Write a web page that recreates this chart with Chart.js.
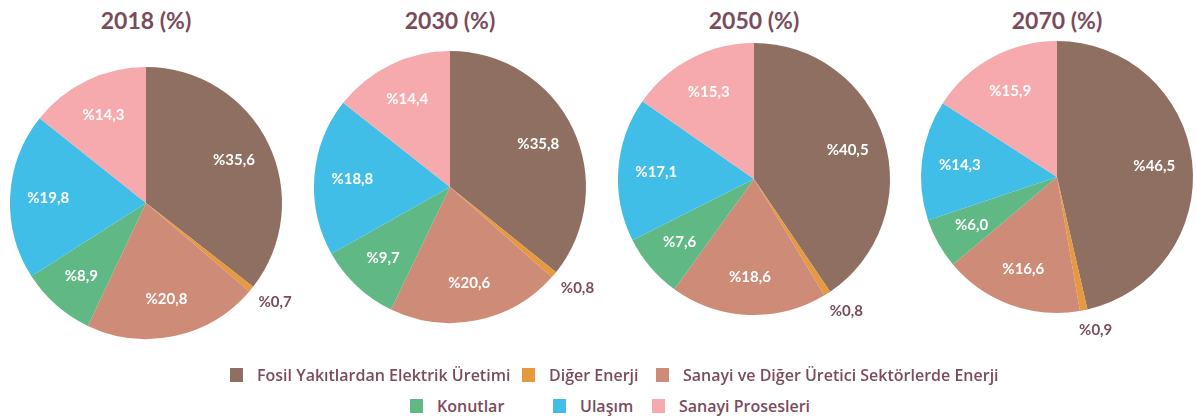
<!DOCTYPE html>
<html>
<head>
<meta charset="utf-8">
<script src="https://cdn.jsdelivr.net/npm/chart.js@4"></script>
<style>
  body { margin: 0; width: 1196px; height: 419px; background: #fff; position: relative; overflow: hidden; font-family: Lato, "Noto Sans", sans-serif; }
  .pie { position: absolute; }
  .title { position: absolute; top: 6px; width: 200px; text-align: center; font-weight: bold; font-size: 23px; color: #7b4b5c; }
  .leg { position: absolute; display: flex; align-items: center; font-family: "Open Sans", sans-serif; font-weight: 600; font-size: 16px; color: #7b4b5c; white-space: nowrap; }
  .leg span.box { display: inline-block; width: 13px; height: 14px; margin-right: 14px; }
</style>
</head>
<body>
<script>
const labels = [
  "Fosil Yakıtlardan Elektrik Üretimi",
  "Diğer Enerji",
  "Sanayi ve Diğer Üretici Sektörlerde Enerji",
  "Konutlar",
  "Ulaşım",
  "Sanayi Prosesleri",
];
const colors = ["#8f6f62", "#e6993f", "#cd8b78", "#60b885", "#41bee7", "#f6aaad"];
const years = ["2018 (%)", "2030 (%)", "2050 (%)", "2070 (%)"];
const values2018 = [35.6, 0.7, 20.8, 8.9, 19.8, 14.3];
const values2030 = [35.8, 0.8, 20.6, 9.7, 18.8, 14.4];
const values2050 = [40.5, 0.8, 18.6, 7.6, 17.1, 15.3];
const values2070 = [46.5, 0.9, 16.6, 6.0, 14.3, 15.9];
const allValues = [values2018, values2030, values2050, values2070];

// layout: pie centres
const centers = [[146, 203], [450, 187], [754, 179], [1057, 177]];
const R = 136, SIZE = 360;

const fmt = (v) => "%" + v.toFixed(1).replace(".", ",");

const sliceLabels = {
  id: "sliceLabels",
  afterDatasetsDraw(chart) {
    const ctx = chart.ctx;
    const values = chart.data.datasets[0].data;
    chart.getDatasetMeta(0).data.forEach((arc, i) => {
      const { x, y, startAngle, endAngle, outerRadius } = arc.getProps(["x", "y", "startAngle", "endAngle", "outerRadius"], true);
      const mid = (startAngle + endAngle) / 2;
      const small = values[i] < 2;
      const d = outerRadius * (small ? 1.15 : 0.72);
      const dx = small ? 8 : 0;
      ctx.save();
      ctx.font = "bold 15px Lato, 'Noto Sans', sans-serif";
      ctx.fillStyle = small ? "#7b4b5c" : "#ffffff";
      ctx.textAlign = "center";
      ctx.textBaseline = "middle";
      ctx.fillText(fmt(values[i]), x + Math.cos(mid) * d + dx, y + Math.sin(mid) * d);
      ctx.restore();
    });
  },
};

allValues.forEach((vals, k) => {
  const [cx, cy] = centers[k];
  const t = document.createElement("div");
  t.className = "title";
  t.style.left = (cx - 100) + "px";
  t.textContent = years[k];
  document.body.appendChild(t);

  const c = document.createElement("canvas");
  c.className = "pie";
  c.width = SIZE; c.height = SIZE;
  c.style.left = (cx - SIZE / 2) + "px";
  c.style.top = (cy - SIZE / 2) + "px";
  document.body.appendChild(c);

  new Chart(c.getContext("2d"), {
    type: "pie",
    data: {
      labels,
      datasets: [{ data: vals, backgroundColor: colors, borderWidth: 0, hoverBorderWidth: 0, hoverOffset: 0 }],
    },
    options: {
      responsive: false,
      animation: false,
      layout: { padding: SIZE / 2 - R },
      plugins: { legend: { display: false }, tooltip: { enabled: false } },
    },
    plugins: [sliceLabels],
  });
});

// legend (html), item left positions and rows
const legendPos = [[230, 376], [522, 376], [656, 376], [410, 407], [553, 407], [652, 407]];
labels.forEach((name, i) => {
  const d = document.createElement("div");
  d.className = "leg";
  d.style.left = legendPos[i][0] + "px";
  d.style.top = (legendPos[i][1] - 12) + "px";
  d.innerHTML = `<span class="box" style="background:${colors[i]}"></span>${name}`;
  document.body.appendChild(d);
});
</script>
</body>
</html>
